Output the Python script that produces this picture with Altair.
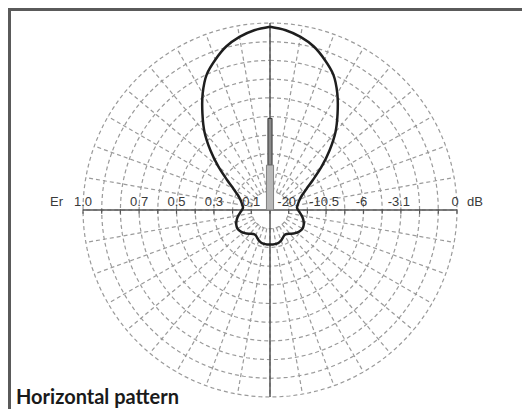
import altair as alt
import pandas as pd
import numpy as np

# ---------------- data ----------------
# pattern: relative field strength Er at azimuth (deg, clockwise from top)
pattern_angles = list(range(0, 365, 5))
pattern_er = [
    0.98, 0.965, 0.94, 0.905, 0.855, 0.80, 0.72, 0.63, 0.545, 0.45,
    0.36, 0.28, 0.225, 0.19, 0.17, 0.158, 0.15, 0.145, 0.15, 0.16,
    0.172, 0.183, 0.192, 0.198, 0.20, 0.196, 0.188, 0.178, 0.166, 0.157,
    0.155, 0.163, 0.174, 0.181, 0.184, 0.185, 0.185,
    0.185, 0.184, 0.181, 0.174, 0.163, 0.155, 0.157, 0.166, 0.178, 0.188,
    0.196, 0.20, 0.198, 0.192, 0.183, 0.172, 0.16, 0.15, 0.145, 0.15,
    0.158, 0.17, 0.19, 0.225, 0.28, 0.36, 0.45, 0.545, 0.63, 0.72,
    0.80, 0.855, 0.905, 0.94, 0.965, 0.98,
]

ring_radii = [0.1, 0.2, 0.3, 0.4, 0.5, 0.6, 0.7, 0.8, 0.9, 1.0]
spoke_angles = list(range(0, 360, 10))
tick_values = [-1.0, -0.9, -0.8, -0.7, -0.6, -0.5, -0.4, -0.3, -0.2, -0.1, 0.0,
               0.1, 0.2, 0.3, 0.4, 0.5, 0.6, 0.7, 0.8, 0.9, 1.0]
left_labels = ["1.0", "0.7", "0.5", "0.3", "0.1"]
left_label_pos = [-1.0, -0.7, -0.5, -0.3, -0.1]
right_labels = ["-20", "-10.5", "-6", "-3.1", "0"]
right_label_pos = [0.1, 0.3, 0.5, 0.7, 1.0]

# antenna element drawn at the centre (Er units)
element_x1 = [-0.011, -0.019]
element_x2 = [0.011, 0.019]
element_y1 = [0.24, 0.0]
element_y2 = [0.49, 0.24]
element_fill = ["#8a8a8a", "#b8b8b8"]
element_stroke = ["#333333", "#808080"]

# ---------------- layout ----------------
W, H = 514, 401
PX = 187.0
CX, CY = 262.0, 202.0
xs = alt.Scale(domain=[-CX / PX, (W - CX) / PX], nice=False, zero=False)
ys = alt.Scale(domain=[-(H - CY) / PX, CY / PX], nice=False, zero=False)


def X(f):
    return alt.X(f, type="quantitative", scale=xs, axis=None)


def Y(f):
    return alt.Y(f, type="quantitative", scale=ys, axis=None)


GRID = "#9a9a9a"
DASH = [4, 3]

# rings
ring_df = pd.DataFrame(
    [(r, a) for r in ring_radii for a in range(0, 361, 3)], columns=["r", "a"]
)
rings = alt.Chart(ring_df).transform_calculate(
    x="datum.r*sin(datum.a*PI/180)", y="datum.r*cos(datum.a*PI/180)"
).mark_line(color=GRID, strokeWidth=1.2, strokeDash=DASH).encode(
    x=X("x"), y=Y("y"), detail="r:N", order="a:Q"
)

# spokes
spoke_df = pd.DataFrame({"a": spoke_angles})
spokes = alt.Chart(spoke_df).transform_calculate(
    x1="0.1*sin(datum.a*PI/180)", y1="0.1*cos(datum.a*PI/180)",
    x2="sin(datum.a*PI/180)", y2="cos(datum.a*PI/180)"
).mark_rule(color=GRID, strokeWidth=1.2, strokeDash=DASH).encode(
    x=X("x1"), y=Y("y1"), x2="x2:Q", y2="y2:Q"
)

# axes lines
axes_df = pd.DataFrame({"x1": [-1.0, 0.0], "y1": [0.0, -1.0], "x2": [1.0, 0.0], "y2": [0.0, 1.0]})
axes = alt.Chart(axes_df).mark_rule(color="#555555", strokeWidth=1.5).encode(
    x=X("x1"), y=Y("y1"), x2="x2:Q", y2="y2:Q"
)

tick_df = pd.DataFrame({"x": tick_values})
ticks = alt.Chart(tick_df).transform_calculate(y1="0.004", y2="-0.02").mark_rule(
    color="#555555", strokeWidth=1.2
).encode(x=X("x"), y=Y("y1"), y2="y2:Q")

# antenna element
el_df = pd.DataFrame({"x1": element_x1, "x2": element_x2, "y1": element_y1,
                      "y2": element_y2, "fill": element_fill, "stroke": element_stroke})
element = alt.Chart(el_df).mark_rect(strokeWidth=1).encode(
    x=X("x1"), x2="x2:Q", y=Y("y1"), y2="y2:Q",
    fill=alt.Fill("fill:N", scale=None), stroke=alt.Stroke("stroke:N", scale=None)
)

# pattern curve
pat_df = pd.DataFrame({"a": pattern_angles, "er": pattern_er})
curve = alt.Chart(pat_df).transform_calculate(
    x="datum.er*sin(datum.a*PI/180)", y="datum.er*cos(datum.a*PI/180)"
).mark_line(color="#1e1e1e", strokeWidth=2.5, interpolate="catmull-rom").encode(
    x=X("x"), y=Y("y"), order="a:Q"
)

# labels
FONT = "Liberation Sans"
LCOL = "#3a3a3a"
ll_df = pd.DataFrame({"x": left_label_pos, "t": left_labels, "y": 0.0})
left_text = alt.Chart(ll_df).mark_text(
    font=FONT, fontSize=13, color=LCOL, align="center", baseline="alphabetic", dy=-4
).encode(x=X("x"), y=Y("y"), text="t:N")
rl_df = pd.DataFrame({"x": right_label_pos, "t": right_labels, "y": 0.0})
right_text = alt.Chart(rl_df).mark_text(
    font=FONT, fontSize=13, color=LCOL, align="center", baseline="alphabetic", dy=-4, dx=-2
).encode(x=X("x"), y=Y("y"), text="t:N")

er_df = pd.DataFrame({"x": [-1.0], "y": [0.0], "t": ["Er"]})
er_text = alt.Chart(er_df).mark_text(
    font=FONT, fontSize=13, color=LCOL, align="right", baseline="alphabetic", dy=-4, dx=-20
).encode(x=X("x"), y=Y("y"), text="t:N")
db_df = pd.DataFrame({"x": [1.0], "y": [0.0], "t": ["dB"]})
db_text = alt.Chart(db_df).mark_text(
    font=FONT, fontSize=13, color=LCOL, align="left", baseline="alphabetic", dy=-4, dx=10
).encode(x=X("x"), y=Y("y"), text="t:N")

title = alt.Chart(pd.DataFrame({"t": ["Horizontal pattern"]})).mark_text(
    font="Lato", fontSize=20, fontWeight="bold", color="#1a1a1a",
    align="left", baseline="alphabetic"
).encode(x=alt.value(8), y=alt.value(396), text="t:N")

# frame (top and left edges)
frame_left = alt.Chart(pd.DataFrame({"a": [0]})).mark_rule(color="#5a5a5a", strokeWidth=3).encode(
    x=alt.value(1.5), y=alt.value(0), y2=alt.value(H)
)
frame_top = alt.Chart(pd.DataFrame({"a": [0]})).mark_rule(color="#5a5a5a", strokeWidth=3).encode(
    y=alt.value(1.5), x=alt.value(0), x2=alt.value(W)
)

chart = alt.layer(
    rings, spokes, axes, ticks, element, curve,
    left_text, right_text, er_text, db_text, title, frame_left, frame_top
).properties(
    width=W, height=H, padding=0, autosize=alt.AutoSizeParams(type="none"),
    background="white"
).configure_view(stroke=None)

chart.save("out.html", embed_options={"renderer": "svg", "actions": False})
